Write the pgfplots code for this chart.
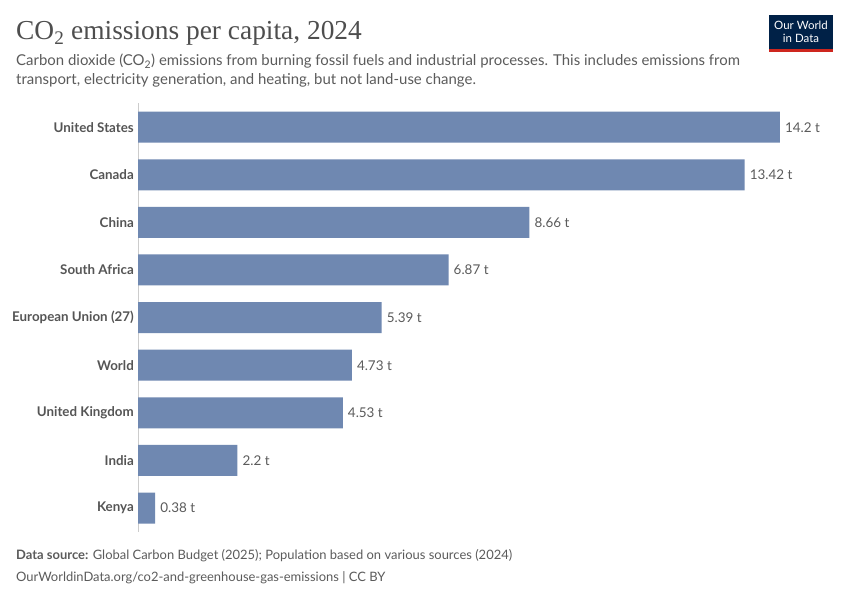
\documentclass[border=0pt]{standalone}
\usepackage{pgfplots}
\pgfplotsset{compat=1.18}
\usepackage{fontspec}
\setmainfont{Lato}
\newfontfamily\titlefont{Liberation Serif}
\definecolor{barc}{HTML}{6F88B1}
\definecolor{titlec}{HTML}{4E4E4E}
\definecolor{subc}{HTML}{5B5B5B}
\definecolor{labc}{HTML}{555555}
\definecolor{owidnavy}{HTML}{002147}
\definecolor{owidred}{HTML}{CE261E}
\begin{document}
\begin{tikzpicture}[x=1bp,y=1bp]
\fill[white] (0,0) rectangle (850,600);
% title
\node[anchor=base west, inner sep=0, font=\titlefont\fontsize{27.5}{32}\selectfont, text=titlec] at (16,560) {CO\textsubscript{2} emissions per capita, 2024};
% subtitle
\node[anchor=base west, inner sep=0, font=\fontsize{15}{18}\selectfont, text=subc] at (16,534) {Carbon dioxide (CO\textsubscript{2}) emissions from burning fossil fuels and industrial processes. This includes emissions from};
\node[anchor=base west, inner sep=0, font=\fontsize{15}{18}\selectfont, text=subc] at (16,515) {transport, electricity generation, and heating, but not land-use change.};
% logo
\fill[owidnavy] (769,585) rectangle (833,551);
\fill[owidred] (769,551) rectangle (833,548);
\node[align=center, text=white, font=\fontsize{11.5}{12.5}\selectfont, inner sep=0] at (801,568) {Our World\\in Data};
% footer
\node[anchor=base west, inner sep=0, font=\fontsize{13}{15}\selectfont, text=subc] at (16,40) {\textbf{Data source:} Global Carbon Budget (2025); Population based on various sources (2024)};
\node[anchor=base west, inner sep=0, font=\fontsize{13}{15}\selectfont, text=subc] at (16,18) {OurWorldinData.org/co2-and-greenhouse-gas-emissions | CC BY};
\begin{axis}[
  at={(138bp,68.2bp)}, anchor=south west,
  scale only axis, width=678bp, height=428.4bp,
  xmin=0, xmax=15, ymin=-0.5, ymax=8.5, y dir=reverse,
  axis x line=none, axis y line=left,
  axis line style={-, draw=black!20, line width=0.8pt},
  ytick={0,...,8},
  yticklabels={United States,Canada,China,South Africa,European Union (27),World,United Kingdom,India,Kenya},
  major tick length=0,
  yticklabel style={font=\bfseries\fontsize{13.4}{15}\selectfont, text=labc, inner xsep=4bp},
  clip=false,
]
\addplot[xbar, fill=barc, draw=none, bar width=31bp,
  point meta=explicit symbolic,
  nodes near coords,
  nodes near coords style={anchor=west, font=\fontsize{13.5}{15}\selectfont, text=subc, inner xsep=5bp},
] coordinates {
  (14.2,0) [14.2 t]
  (13.42,1) [13.42 t]
  (8.66,2) [8.66 t]
  (6.87,3) [6.87 t]
  (5.39,4) [5.39 t]
  (4.73,5) [4.73 t]
  (4.53,6) [4.53 t]
  (2.2,7) [2.2 t]
  (0.38,8) [0.38 t]
};
\end{axis}
\end{tikzpicture}
\end{document}
